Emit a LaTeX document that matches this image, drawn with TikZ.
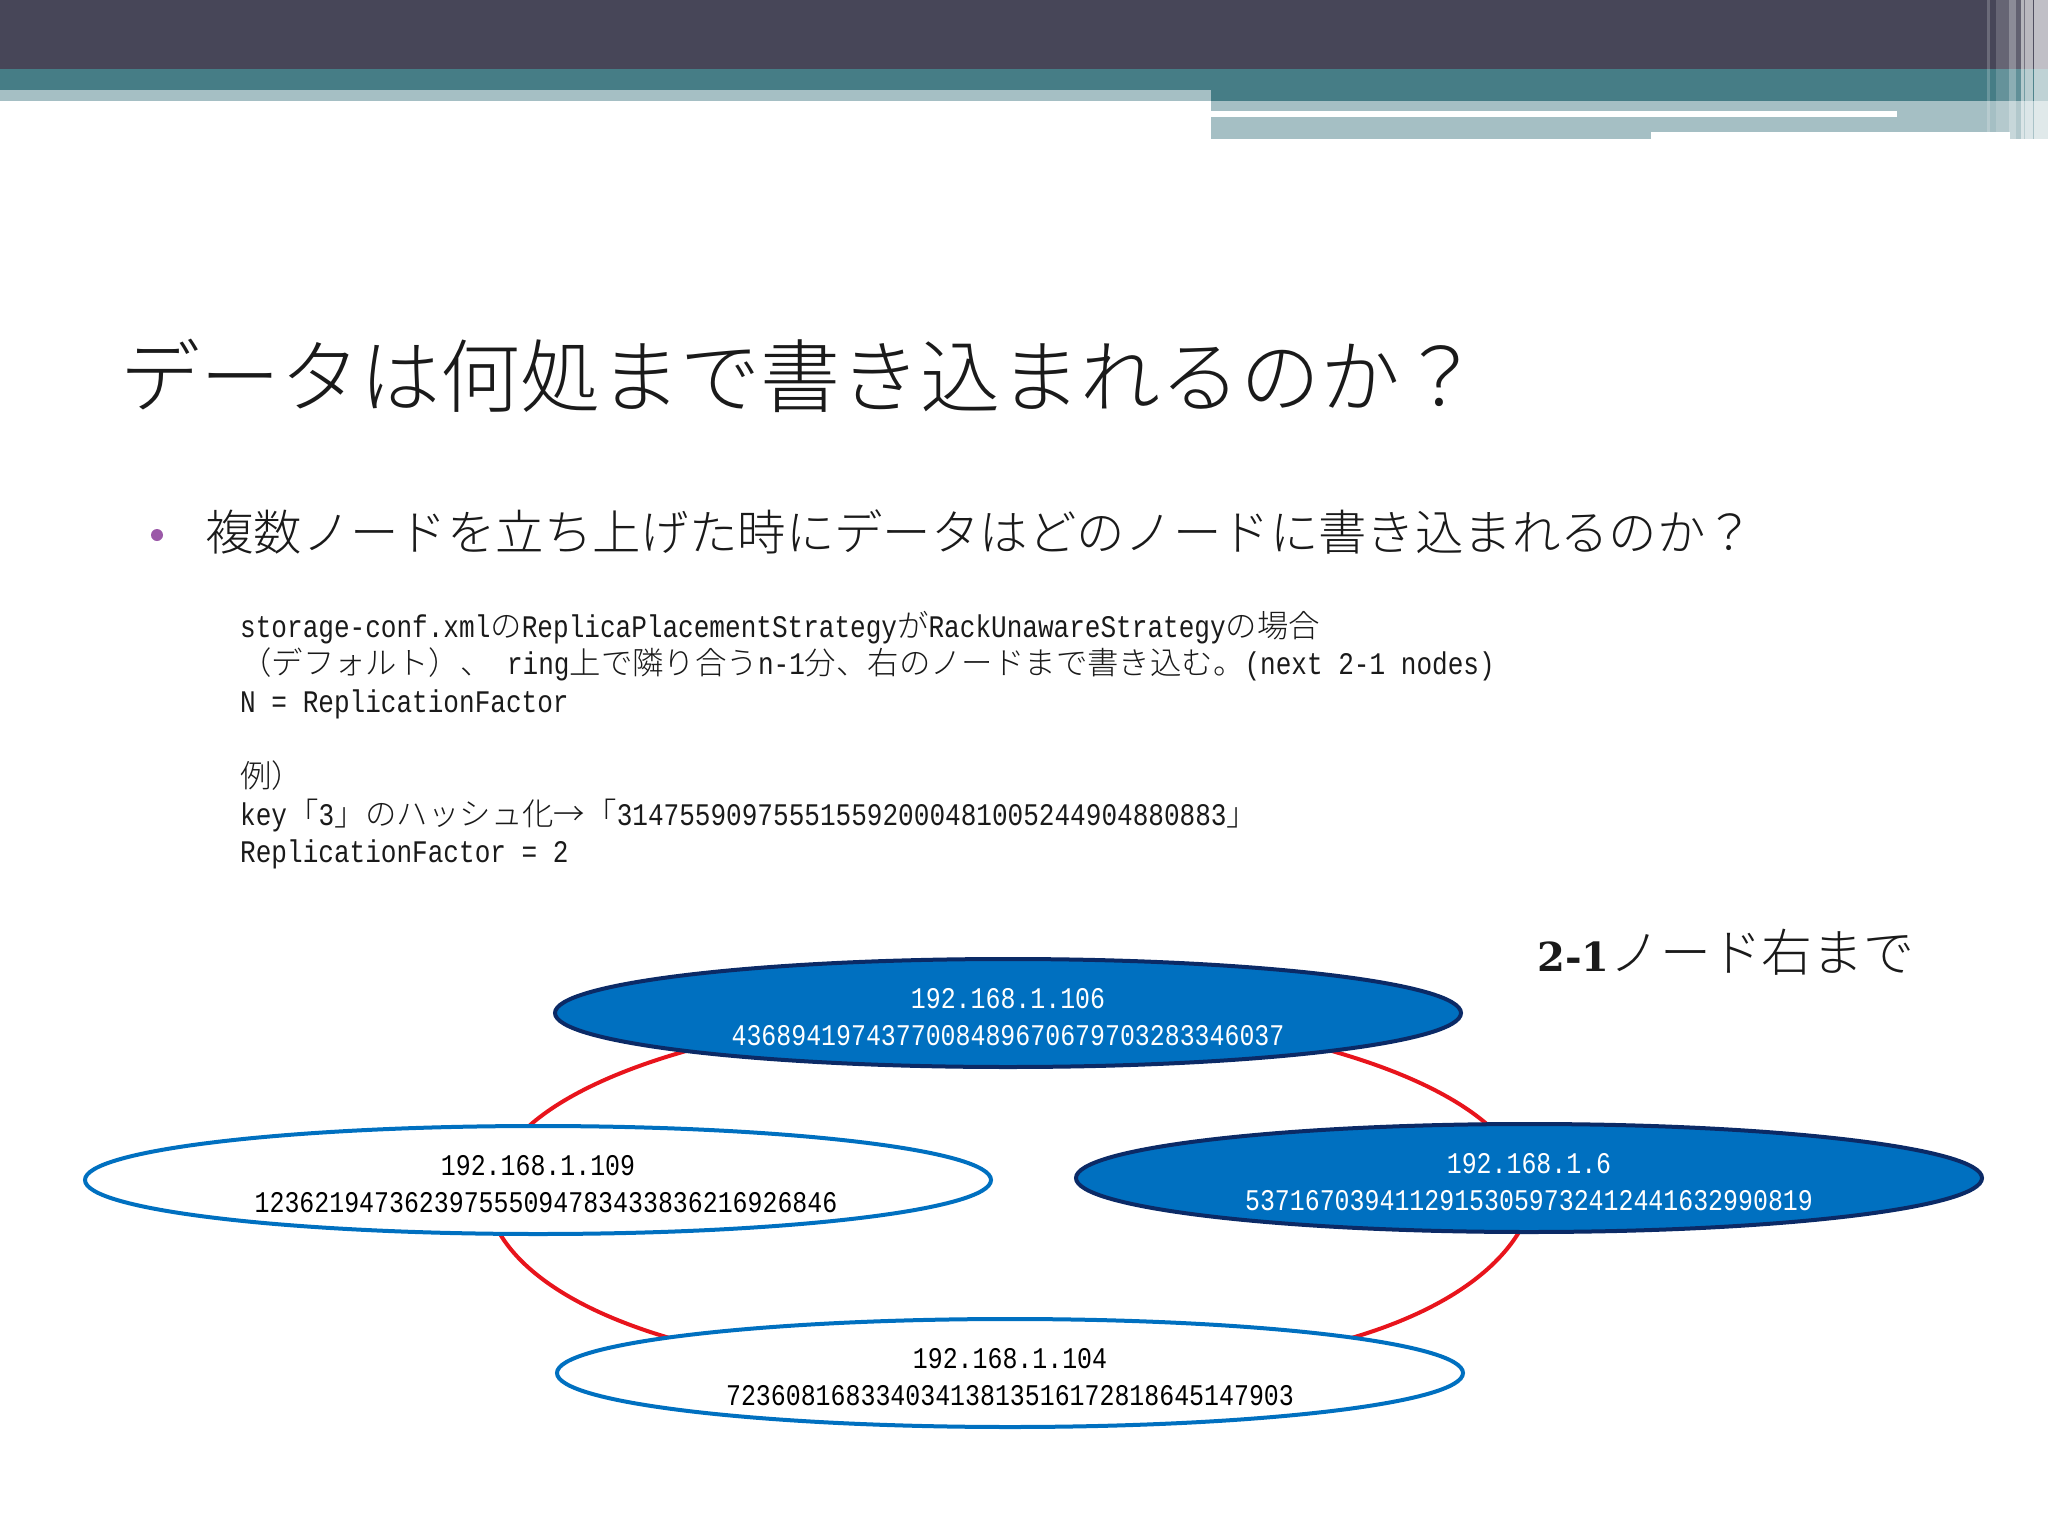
\documentclass[tikz,border=0pt]{standalone}
\usepackage{fontspec}
\usetikzlibrary{shapes.geometric,backgrounds}
\setmainfont{Liberation Serif}
\newfontfamily\jp{Noto Sans CJK JP Light}
\newfontfamily\mono[FakeStretch=0.83]{Liberation Mono}
\newfontfamily\boldnum{DejaVu Serif}[BoldFont={DejaVu Serif Bold}]
\newcommand{\hosttext}[2]{\rule{0pt}{27.6pt}#1\\#2}
\definecolor{bandDark}{HTML}{474658}
\definecolor{bandTeal}{HTML}{467D86}
\definecolor{bandLight}{HTML}{A5BFC4}
\definecolor{ringRed}{HTML}{E8141C}
\definecolor{hostBlue}{HTML}{0070C0}
\definecolor{hostNavy}{HTML}{0B2A66}
\definecolor{bulletPurple}{HTML}{9B59A8}
\definecolor{inkBlack}{HTML}{1A1A1A}
\tikzset{
  hostbase/.style={ellipse,minimum width=906pt,minimum height=108pt,inner sep=0pt,line width=4pt,align=center,
    font=\mono\fontsize{30}{37}\selectfont},
  hostoff/.style={hostbase,draw=hostBlue,fill=white,text=black},
  hoston/.style={hostbase,draw=hostNavy,fill=hostBlue,text=white},
  ringlink/.style={draw=ringRed,line width=4pt},
  stripe/.style={fill=white,draw=none},
}
\begin{document}
\begin{tikzpicture}[x=1pt,y=-1pt]
\useasboundingbox (0,0) rectangle (2048,1536);
% header band
\fill[bandDark] (0,0) rectangle (2048,69);
\fill[bandTeal] (0,69) rectangle (2048,101);
\fill[bandLight] (0,90) rectangle (1211,101);
\fill[bandLight] (1211,101) rectangle (2048,132);
\fill[bandLight] (1211,132) rectangle (1651,139);
\fill[white] (1211,111) rectangle (1897,117.5);
\fill[bandLight] (2010,132) rectangle (2048,139);
\fill[stripe,fill opacity=.2] (1987,0) rectangle (1990,132);
\fill[stripe,fill opacity=.17] (1996,0) rectangle (2009,132);
\fill[stripe,fill opacity=.38] (2009,0) rectangle (2016,139);
\fill[stripe,fill opacity=.15] (2016,0) rectangle (2021,139);
\fill[stripe,fill opacity=.6] (2021,0) rectangle (2024,139);
\fill[stripe,fill opacity=.25] (2024,0) rectangle (2025,139);
\fill[stripe,fill opacity=.62] (2025,0) rectangle (2033,139);
\fill[stripe,fill opacity=.05] (2033,0) rectangle (2034,139);
\fill[stripe,fill opacity=.66] (2034,0) rectangle (2048,139);
% texts
\node[anchor=west,inner sep=0pt,text=inkBlack,font=\jp\fontsize{80}{90}\selectfont] (title) at (120,376) {データは何処まで書き込まれるのか？};
\node[circle,fill=bulletPurple,inner sep=0pt,minimum size=12pt] (bullet) at (157,535) {};
\node[anchor=west,inner sep=0pt,text=inkBlack,font=\jp\fontsize{48.4}{56}\selectfont] (lead) at (205,532) {複数ノードを立ち上げた時にデータはどのノードに書き込まれるのか？};
\node[anchor=west,inner sep=0pt,align=left,text=inkBlack,font=\mono\fontsize{31.4}{37.6}\selectfont] (body) at (240,740) {%
storage-conf.xml{\jp の}ReplicaPlacementStrategy{\jp が}RackUnawareStrategy{\jp の場合}\\
{\jp （デフォルト）、} ring{\jp 上で隣り合う}n-1{\jp 分、右のノードまで書き込む。}(next 2-1 nodes)\\
N = ReplicationFactor\\
\mbox{}\\
{\jp 例）}\\
key{\jp 「}3{\jp 」のハッシュ化→「}314755909755515592000481005244904880883{\jp 」}\\
ReplicationFactor = 2};
\node[anchor=west,inner sep=0pt,text=inkBlack] (hop) at (1537,952) {{\boldnum\bfseries\fontsize{40}{48}\selectfont 2-1}{\jp\fontsize{50.8}{56}\selectfont ノード右まで}};
% hosts
\node[hoston] (top) at (1008,1013) {\hosttext{192.168.1.106}{4368941974377008489670679703283346037}};
\node[hostoff] (left) at (538,1180) {\hosttext{192.168.1.109}{\hspace*{16pt}123621947362397555094783433836216926846}};
\node[hoston] (right) at (1529,1178) {\hosttext{192.168.1.6}{53716703941129153059732412441632990819}};
\node[hostoff] (bottom) at (1010,1373) {\hosttext{192.168.1.104}{72360816833403413813516172818645147903}};
% ring
\begin{pgfonlayer}{background}
\draw[ringlink] ([shift={(-322,38)}]top.center) .. controls +(-69.8,19.9) and +(33.3,-29.6) .. ([shift={(-9,-54)}]left.center);
\draw[ringlink] ([shift={(324,38)}]top.center) .. controls +(69.8,19.9) and +(-33.3,-29.6) .. ([shift={(-40,-52)}]right.center);
\draw[ringlink] ([shift={(-38,54)}]left.center) .. controls +(24.9,41.3) and +(-91.4,-26.4) .. ([shift={(-337,-34)}]bottom.center);
\draw[ringlink] ([shift={(-10,54)}]right.center) .. controls +(-24.9,41.3) and +(91.4,-26.4) .. ([shift={(338,-34)}]bottom.center);
\end{pgfonlayer}
\end{tikzpicture}
\end{document}
